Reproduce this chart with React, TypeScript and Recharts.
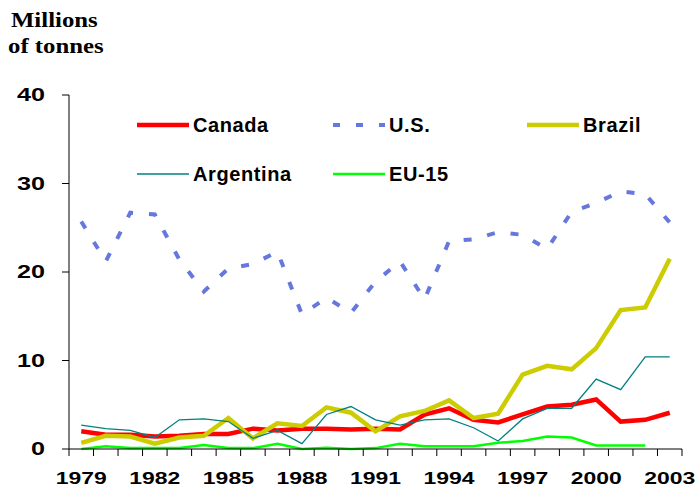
import { LineChart, Line, XAxis, YAxis, Legend } from "recharts";

const YEARS = [
  1979, 1980, 1981, 1982, 1983, 1984, 1985, 1986, 1987, 1988, 1989, 1990, 1991,
  1992, 1993, 1994, 1995, 1996, 1997, 1998, 1999, 2000, 2001, 2002, 2003,
];
const LABEL_YEARS = [1979, 1982, 1985, 1988, 1991, 1994, 1997, 2000, 2003];
const Y_TICKS = [0, 10, 20, 30, 40];

const CANADA = [2.0, 1.6, 1.6, 1.4, 1.5, 1.7, 1.7, 2.3, 2.1, 2.3, 2.3, 2.2, 2.3, 2.2, 3.9, 4.6, 3.3, 3.0, 3.9, 4.8, 5.0, 5.6, 3.1, 3.3, 4.1];
const US = [25.7, 21.2, 26.7, 26.5, 21.4, 17.8, 20.4, 20.9, 22.3, 15.2, 17.1, 15.4, 18.9, 21.2, 16.9, 23.5, 23.7, 24.5, 24.2, 22.6, 26.8, 27.8, 29.1, 28.8, 25.6];
const BRAZIL = [0.7, 1.5, 1.4, 0.6, 1.3, 1.5, 3.5, 1.2, 2.9, 2.6, 4.7, 4.1, 2.0, 3.7, 4.3, 5.5, 3.5, 4.0, 8.4, 9.4, 9.0, 11.4, 15.7, 16.0, 21.5];
const ARGENTINA = [2.7, 2.3, 2.1, 1.3, 3.3, 3.4, 3.1, 1.2, 2.1, 0.6, 3.9, 4.8, 3.3, 2.7, 3.3, 3.4, 2.4, 0.9, 3.4, 4.6, 4.6, 7.9, 6.7, 10.4, 10.4];
const EU15 = [0.0, 0.3, 0.1, 0.1, 0.1, 0.45, 0.1, 0.1, 0.6, 0.0, 0.15, 0.0, 0.1, 0.6, 0.3, 0.3, 0.3, 0.7, 0.9, 1.4, 1.3, 0.4, 0.4, 0.4, null];

const SERIES = [
  { key: "canada", name: "Canada", color: "#FF0000", width: 4.5, dash: undefined, legendDash: undefined },
  { key: "us", name: "U.S.", color: "#6677DD", width: 4, dash: "8 16", legendDash: "7 16" },
  { key: "brazil", name: "Brazil", color: "#CCCC00", width: 4.5, dash: undefined, legendDash: undefined },
  { key: "argentina", name: "Argentina", color: "#008080", width: 1.3, dash: undefined, legendDash: undefined },
  { key: "eu15", name: "EU-15", color: "#00FF00", width: 2.5, dash: undefined, legendDash: undefined },
];

const data = YEARS.map((year, i) => ({
  year,
  canada: CANADA[i],
  us: US[i],
  brazil: BRAZIL[i],
  argentina: ARGENTINA[i],
  eu15: EU15[i],
}));

const SANS = "'Liberation Sans', Arial, sans-serif";
const SERIF = "'Liberation Serif', 'Times New Roman', serif";

function YearTick(props: any) {
  const { x, y, payload, index, visibleTicksCount, width } = props;
  const bw = (width || 612.5) / visibleTicksCount;
  const last = index === visibleTicksCount - 1;
  return (
    <g>
      <line x1={x - bw / 2} x2={x - bw / 2} y1={y} y2={y + 7} stroke="#000" strokeWidth={1} />
      {last && <line x1={x + bw / 2} x2={x + bw / 2} y1={y} y2={y + 7} stroke="#000" strokeWidth={1} />}
      {LABEL_YEARS.includes(payload.value) && (
        <text
          transform={`translate(${x},${y + 35}) scale(1.35,1)`}
          textAnchor="middle"
          fontFamily={SANS}
          fontWeight="bold"
          fontSize={17}
          fill="#000"
        >
          {payload.value}
        </text>
      )}
    </g>
  );
}

function ValueTick(props: any) {
  const { x, y, payload } = props;
  return (
    <text
      transform={`translate(${x},${y}) scale(1.4,1)`}
      textAnchor="end"
      dy="0.36em"
      fontFamily={SANS}
      fontWeight="bold"
      fontSize={18}
      fill="#000"
    >
      {payload.value}
    </text>
  );
}

function LegendBox() {
  return (
    <div style={{ display: "grid", gridTemplateColumns: "196px 194px 170px" }}>
      {SERIES.map((s) => (
        <div key={s.key} style={{ display: "flex", alignItems: "center", height: 49 }}>
          <svg width={52} height={10} style={{ display: "block" }}>
            <line x1={0} x2={52} y1={5} y2={5} stroke={s.color} strokeWidth={s.width} strokeDasharray={s.legendDash} />
          </svg>
          <span
            style={{
              marginLeft: 4,
              fontFamily: SANS,
              fontWeight: "bold",
              fontSize: 20,
              letterSpacing: 0.6,
              color: "#000",
              lineHeight: "20px",
            }}
          >
            {s.name}
          </span>
        </div>
      ))}
    </div>
  );
}

export default function App() {
  return (
    <div style={{ position: "absolute", left: 0, top: 0, width: 697, height: 489, background: "#fff" }}>
      <svg width={140} height={65} style={{ position: "absolute", left: 0, top: 0 }}>
        <text transform="translate(11,27) scale(1.18,1)" fontFamily={SERIF} fontWeight="bold" fontSize={21} fill="#000">
          Millions
        </text>
        <text transform="translate(8,53) scale(1.18,1)" fontFamily={SERIF} fontWeight="bold" fontSize={21} fill="#000">
          of tonnes
        </text>
      </svg>
      <LineChart
        width={697}
        height={489}
        data={data}
        margin={{ top: 95, right: 15, bottom: 10, left: 9 }}
        style={{ position: "absolute", left: 0, top: 0 }}
      >
        <XAxis
          dataKey="year"
          type="category"
          scale="band"
          interval={0}
          height={30}
          tickLine={false}
          tickSize={0}
          tickMargin={0}
          axisLine={{ stroke: "#000", strokeWidth: 1 }}
          tick={<YearTick />}
        />
        <YAxis
          type="number"
          domain={[0, 40]}
          ticks={Y_TICKS}
          width={60}
          tickSize={7}
          tickMargin={17}
          tickLine={{ stroke: "#000", strokeWidth: 1 }}
          axisLine={{ stroke: "#000", strokeWidth: 1 }}
          tick={<ValueTick />}
        />
        <Legend
          verticalAlign="middle"
          align="center"
          layout="horizontal"
          wrapperStyle={{ top: 100, left: 137, width: 560 }}
          content={<LegendBox />}
        />
        {SERIES.map((s) => (
          <Line
            key={s.key}
            dataKey={s.key}
            name={s.name}
            type="linear"
            stroke={s.color}
            strokeWidth={s.width}
            strokeDasharray={s.dash}
            dot={false}
            activeDot={false}
            isAnimationActive={false}
          />
        ))}
      </LineChart>
    </div>
  );
}
